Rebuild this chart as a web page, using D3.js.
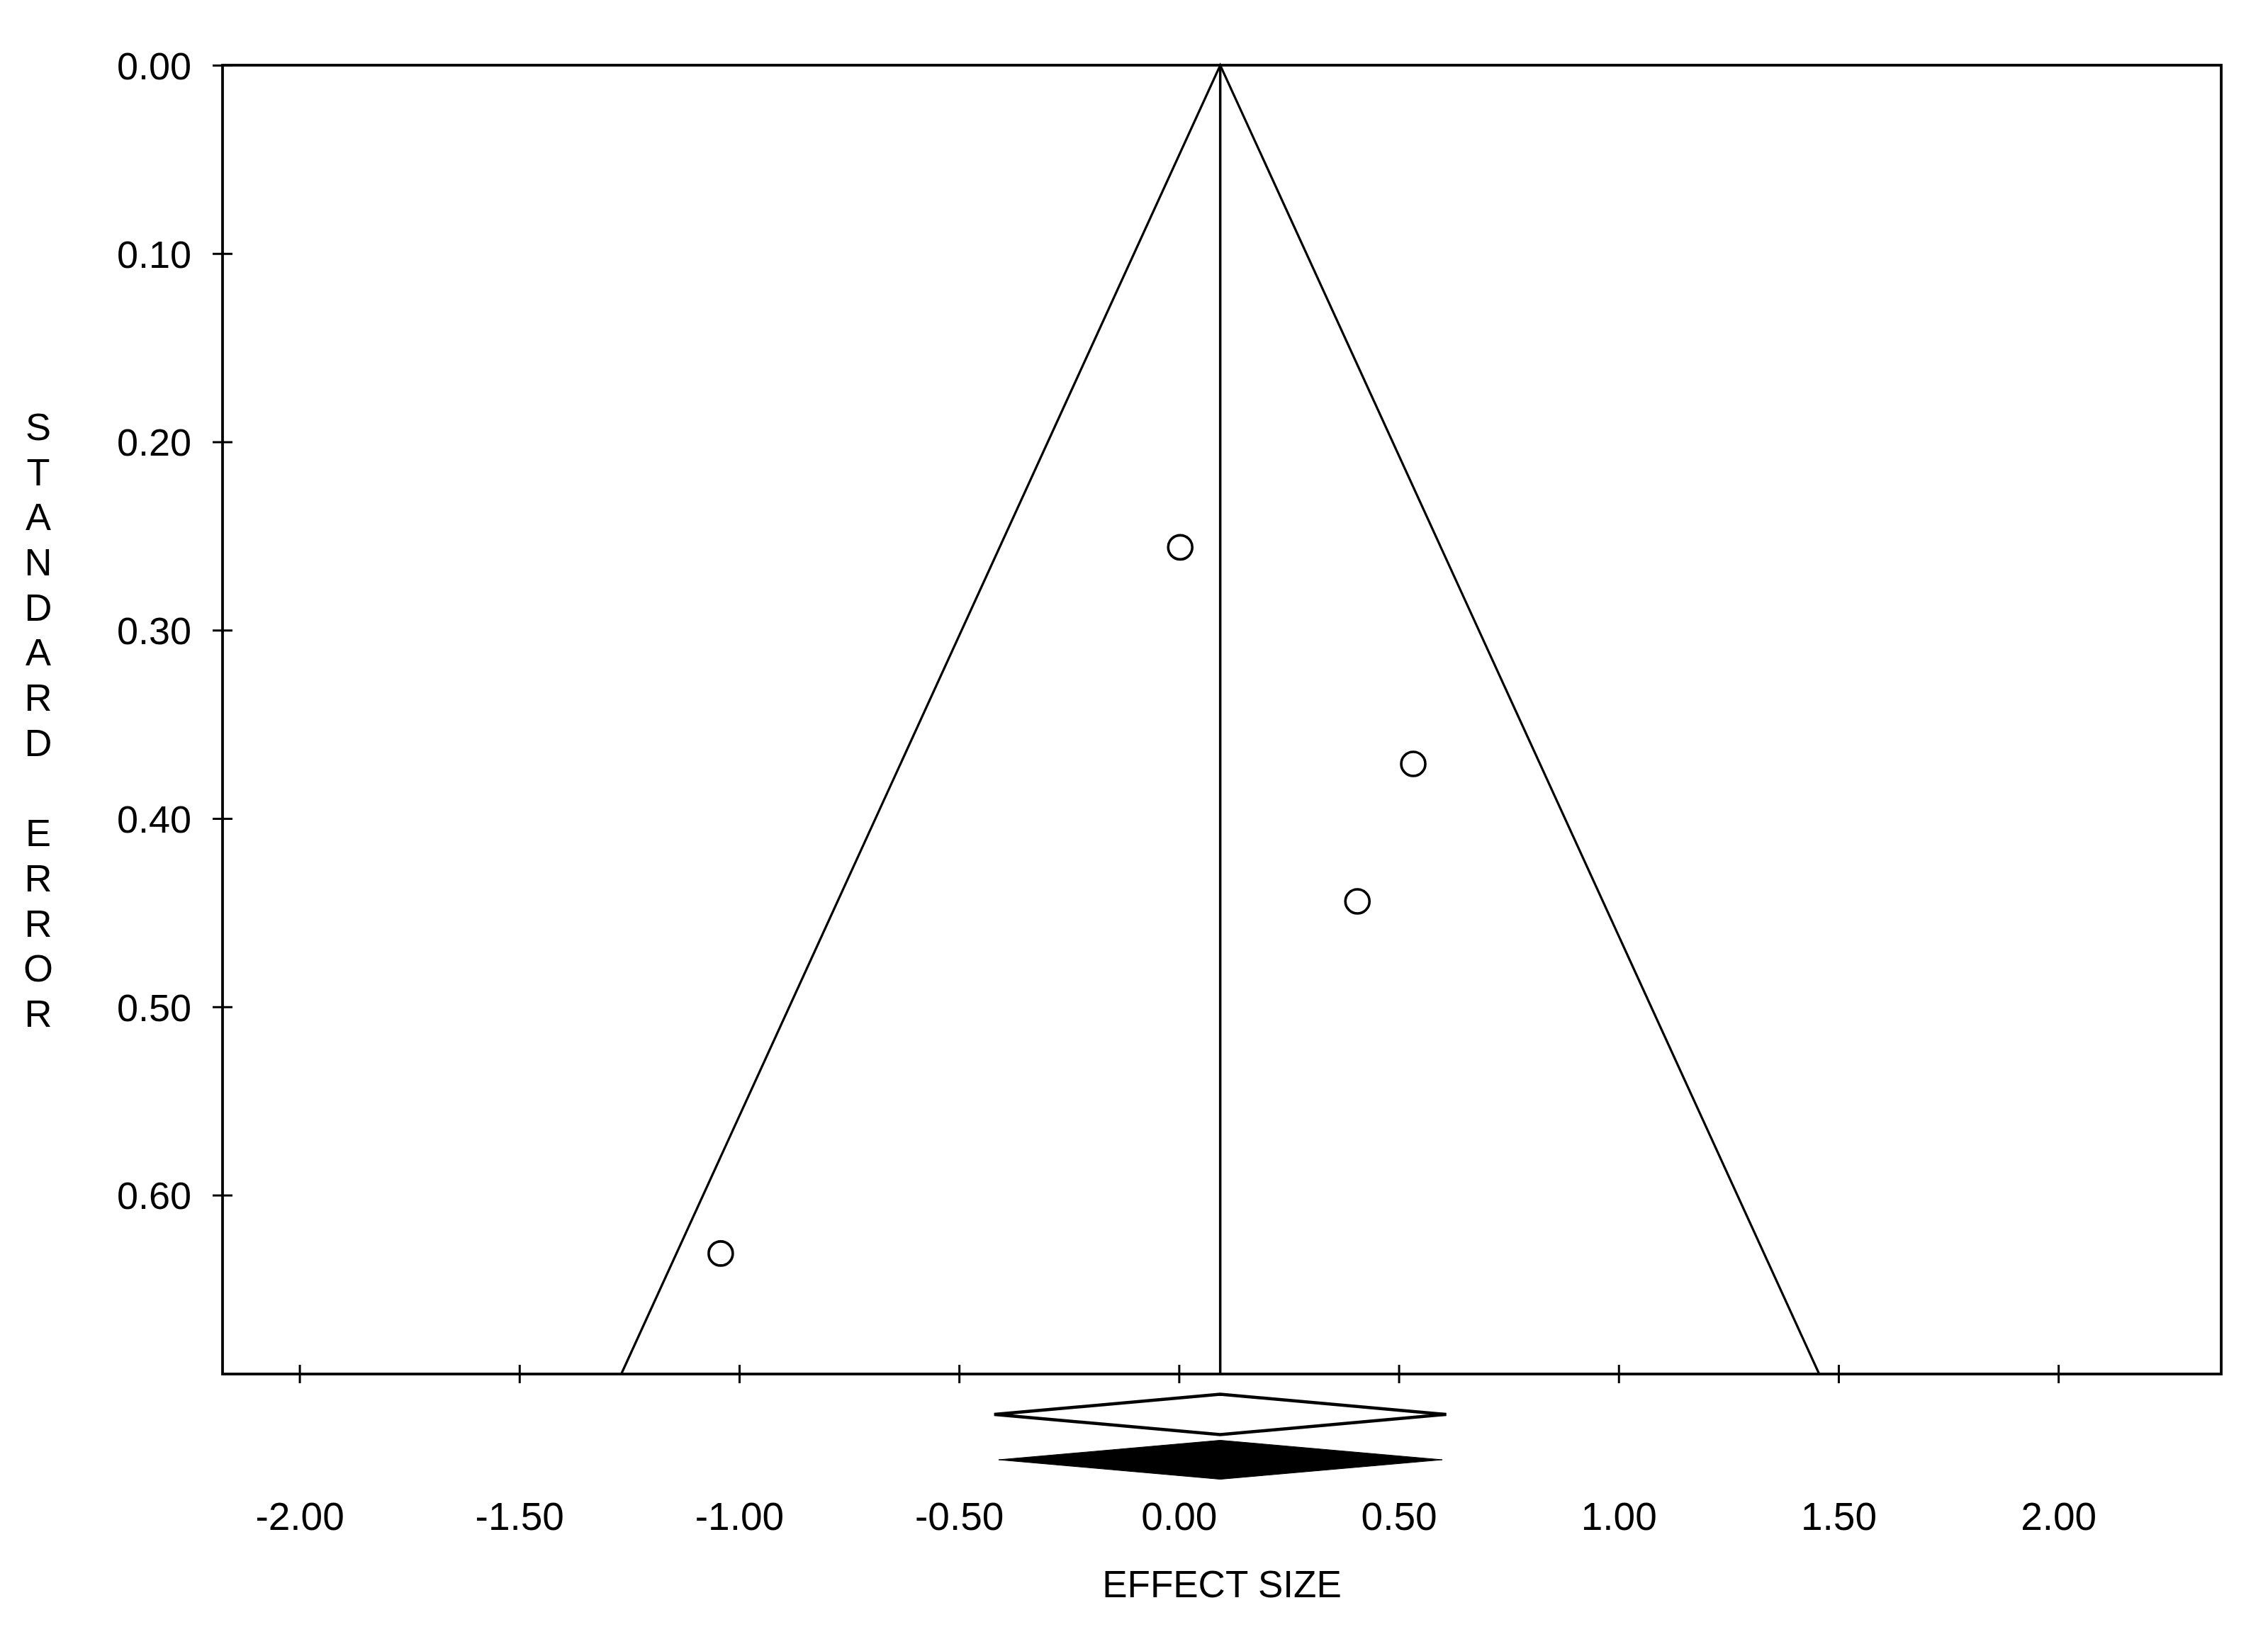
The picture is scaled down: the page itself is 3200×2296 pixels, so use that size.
<!DOCTYPE html>
<html>
<head>
<meta charset="utf-8">
<script src="https://cdn.jsdelivr.net/npm/d3@7"></script>
<style>
  html, body { margin: 0; padding: 0; background: #fff; }
  svg { display: block; }
</style>
</head>
<body>
<svg id="screen"></svg>
<script>
const screenEl = document.querySelector("#screen");

// data
const studyEffect = [0.003, 0.533, 0.406, -1.042];
const studySE     = [0.256, 0.371, 0.444, 0.631];
const meanEffect  = 0.094;
const maxSE       = 0.695;
// pooled diamonds: [lower, point, upper]
const observedDiamond = [-0.420, 0.094, 0.608];
const adjustedDiamond = [-0.410, 0.094, 0.599];
const xTicks = [-2, -1.5, -1, -0.5, 0, 0.5, 1, 1.5, 2];
const yTicks = [0, 0.1, 0.2, 0.3, 0.4, 0.5, 0.6];
const xTitle = "EFFECT SIZE";
const yTitle = "STANDARD ERROR";

//settings
const W = 3200, H = 2296;
const plotLeft = 314, plotRight = 3134, plotTop = 92, plotBottom = 1939;
const font = "'Liberation Sans', Arial, Helvetica, sans-serif";
// plain hyphen for negatives, like the original
const fmt = d => d.toFixed(2);

var svg = d3.select(screenEl).attr("width", W).attr("height", H);

var x = d3.scaleLinear().domain([-2.175, 2.3705]).range([plotLeft, plotRight]);
var y = d3.scaleLinear().domain([0, maxSE]).range([plotTop, plotBottom]);

// funnel
var funnel = [
  [meanEffect - 1.96 * maxSE, maxSE],
  [meanEffect, 0],
  [meanEffect + 1.96 * maxSE, maxSE]
];
svg.append("path")
  .attr("d", d3.line().x(d => x(d[0])).y(d => y(d[1]))(funnel))
  .attr("fill", "none").attr("stroke", "#000").attr("stroke-width", 3.2);

// mean line
svg.append("line")
  .attr("x1", x(meanEffect)).attr("x2", x(meanEffect))
  .attr("y1", y(0)).attr("y2", y(maxSE))
  .attr("stroke", "#000").attr("stroke-width", 3.5);

// frame
svg.append("rect")
  .attr("x", plotLeft).attr("y", plotTop)
  .attr("width", plotRight - plotLeft).attr("height", plotBottom - plotTop)
  .attr("fill", "none").attr("stroke", "#000").attr("stroke-width", 3.8);

// y axis
var yAxis = svg.append("g").attr("transform", "translate(" + plotLeft + ",0)")
  .call(d3.axisLeft(y).tickValues(yTicks).tickFormat(fmt).tickSize(14));
yAxis.select(".domain").remove();
yAxis.selectAll(".tick line").attr("x1", 14).attr("x2", -14)
  .attr("stroke", "#000").attr("stroke-width", 3);
yAxis.selectAll(".tick text")
  .attr("x", -44).attr("dy", "0.36em")
  .attr("font-family", font).attr("font-size", 54).attr("fill", "#000");

// x axis
var xAxis = svg.append("g").attr("transform", "translate(0," + plotBottom + ")")
  .call(d3.axisBottom(x).tickValues(xTicks).tickFormat(fmt).tickSize(13));
xAxis.select(".domain").remove();
xAxis.selectAll(".tick line").attr("y1", -13).attr("y2", 13)
  .attr("stroke", "#000").attr("stroke-width", 3);
xAxis.selectAll(".tick text")
  .attr("y", 220).attr("dy", 0)
  .attr("font-family", font).attr("font-size", 55).attr("fill", "#000");

// studies
svg.selectAll(".study").data(studyEffect).enter().append("circle")
  .attr("class", "study")
  .attr("cx", d => x(d))
  .attr("cy", (d, i) => y(studySE[i]))
  .attr("r", 17)
  .attr("fill", "#fff").attr("stroke", "#000").attr("stroke-width", 3.6);

// diamonds under the axis
function diamond(d, cy, h) {
  return "M" + x(d[0]) + "," + cy +
    "L" + x(d[1]) + "," + (cy - h) +
    "L" + x(d[2]) + "," + cy +
    "L" + x(d[1]) + "," + (cy + h) + "Z";
}
svg.append("path").attr("d", diamond(observedDiamond, plotBottom + 57, 28.5))
  .attr("fill", "#fff").attr("stroke", "#000").attr("stroke-width", 4.5);
svg.append("path").attr("d", diamond(adjustedDiamond, plotBottom + 121, 27.5))
  .attr("fill", "#000").attr("stroke", "#000").attr("stroke-width", 1);

// titles
svg.append("text")
  .attr("x", (plotLeft + plotRight) / 2).attr("y", 2254)
  .attr("text-anchor", "middle")
  .attr("font-family", font).attr("font-size", 53).attr("fill", "#000")
  .text(xTitle);

var letters = yTitle.split("");
var step = 63.7;
var firstY = (plotTop + plotBottom) / 2 - step * (letters.length - 1) / 2;
svg.append("g").selectAll("text").data(letters).enter().append("text")
  .attr("x", 54).attr("y", (d, i) => firstY + i * step)
  .attr("dy", "0.36em")
  .attr("text-anchor", "middle")
  .attr("font-family", font).attr("font-size", 54).attr("fill", "#000")
  .text(d => d);
</script>
</body>
</html>
